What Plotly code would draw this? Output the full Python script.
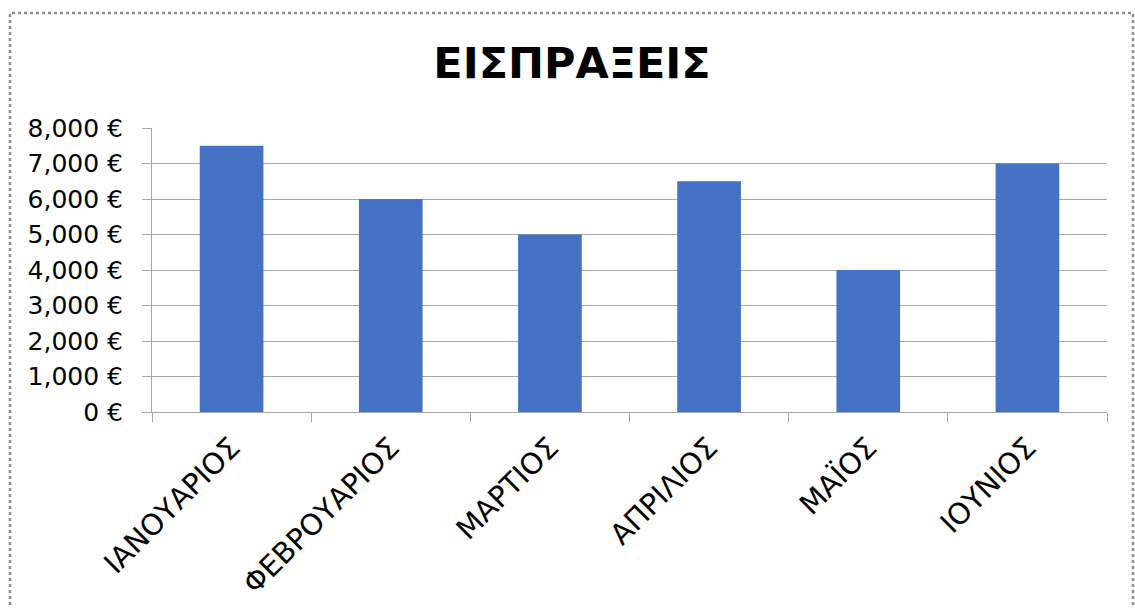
import plotly.graph_objects as go

months = ["ΙΑΝΟΥΑΡΙΟΣ", "ΦΕΒΡΟΥΑΡΙΟΣ", "ΜΑΡΤΙΟΣ", "ΑΠΡΙΛΙΟΣ", "ΜΑΪΟΣ", "ΙΟΥΝΙΟΣ"]
receipts = [7500, 6000, 5000, 6500, 4000, 7000]
y_ticks = [0, 1000, 2000, 3000, 4000, 5000, 6000, 7000, 8000]
y_tick_text = [f"{v:,} €" for v in y_ticks]

W, H = 1135, 608
L, R, T, B = 152, 28, 128, 196
pw, ph = W - L - R, H - T - B

def px_x(x):
    return (x - L) / pw

def px_y(y):
    return (H - B - y) / ph

fig = go.Figure(go.Bar(x=months, y=receipts, marker_color="#4472C4",
                       marker_line_width=0))

fig.update_layout(
    width=W, height=H,
    margin=dict(l=L, r=R, t=T, b=B, autoexpand=False),
    paper_bgcolor="white", plot_bgcolor="white",
    bargap=0.6,
    showlegend=False,
    title=dict(text="<b>ΕΙΣΠΡΑΞΕΙΣ</b>", x=572 / W, xref="container", xanchor="center",
               y=1 - 63 / H, yanchor="middle",
               font=dict(family="DejaVu Sans", size=43, color="black")),
    font=dict(family="DejaVu Sans", color="black"),
    shapes=[dict(type="rect", xref="paper", yref="paper",
                 x0=px_x(10), x1=px_x(1133), y0=px_y(640), y1=px_y(13),
                 line=dict(color="#8c8c8c", width=2.5, dash="dot"),
                 fillcolor="rgba(0,0,0,0)", layer="below")],
)

fig.update_yaxes(range=[0, 8000], tickmode="array", tickvals=y_ticks, ticktext=y_tick_text,
                 showgrid=True, gridcolor="#a6a6a6", gridwidth=1,
                 showline=True, linecolor="#a6a6a6", linewidth=1,
                 ticks="outside", ticklen=9, tickcolor="#a6a6a6",
                 tickfont=dict(size=25, family="DejaVu Sans", color="black"),
                 zeroline=False, ticklabelstandoff=14)

fig.update_xaxes(tickangle=-45, tickson="boundaries",
                 showline=True, linecolor="#a6a6a6", linewidth=1,
                 ticks="outside", ticklen=9, tickcolor="#a6a6a6",
                 showgrid=False, ticklabelstandoff=6,
                 tickfont=dict(size=29, family="DejaVu Sans", color="black"))

fig.write_html("out.html", config={"displayModeBar": False},
               post_script="document.body.style.margin='0';document.body.style.padding='0';")
